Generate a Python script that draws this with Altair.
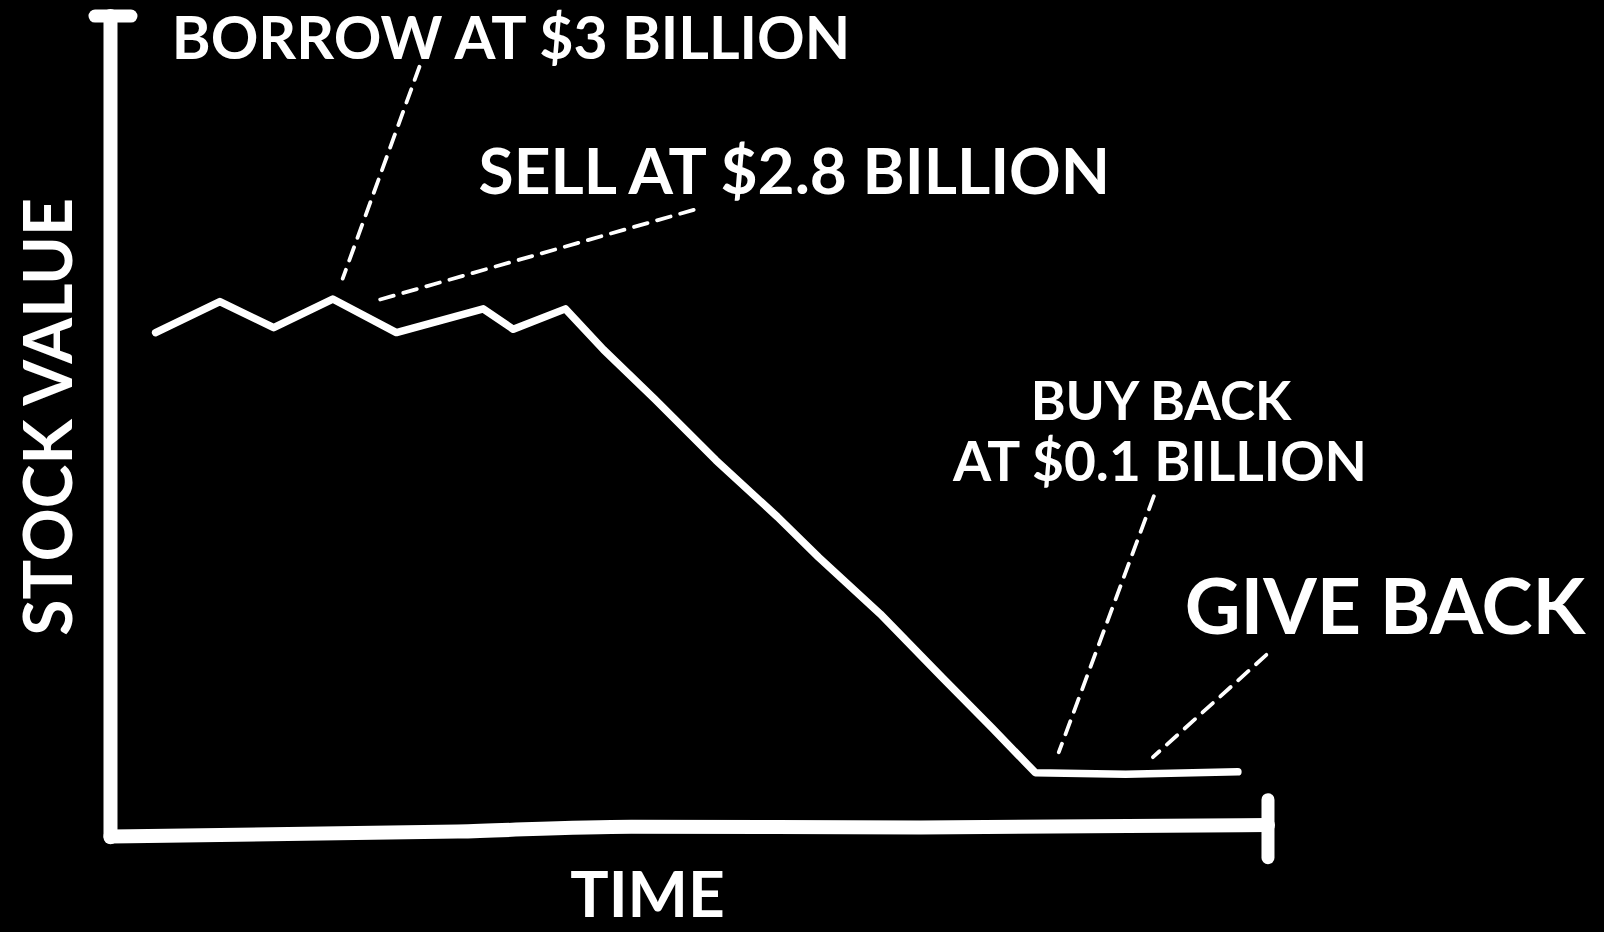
import altair as alt
import pandas as pd
import jinja2

# ---- data (time units: 0 = y axis, 100 = end of x axis; value units: 0 = x axis) ----
time = [3.9, 9.45, 14.1, 19.2, 24.7, 32.2, 34.8, 39.3, 42.6, 47.0, 52.3, 57.6,
        61.2, 66.5, 71.8, 76.2, 79.9, 87.7, 97.4]
value = [61.3, 65.1, 61.9, 65.4, 61.3, 64.2, 61.7, 64.2, 59.2, 53.2, 45.7, 38.8,
         33.8, 26.9, 19.2, 12.9, 7.5, 7.3, 7.6]

label_text = ["BORROW AT $3 BILLION", "SELL AT $2.8 BILLION", "GIVE BACK"]
label_t = [5.3, 31.8, 92.8]
label_v = [94.74, 78.2, 24.4]
label_size = [59, 64, 77]

buy_text = ["BUY BACK", "AT $0.1 BILLION"]
buy_t = [90.76, 90.67]
buy_v = [50.6, 43.2]
buy_size = [53, 55]

leader_t = [26.69, 50.38, 90.14, 99.86]
leader_v = [93.8, 76.3, 41.3, 21.9]
leader_t2 = [20.06, 22.71, 81.93, 90.06]
leader_v2 = [67.9, 65.1, 10.0, 9.4]

xaxis_t = [0, 30, 45, 70, 100]
xaxis_v = [-0.3, 0.3, 0.9, 0.8, 1.1]

XDOM = [-9.546, 129.03]
YDOM = [-11.98, 101.96]
FONT = "Lato"

xs = alt.Scale(domain=XDOM, nice=False, zero=False)
ys = alt.Scale(domain=YDOM, nice=False, zero=False)

line_df = pd.DataFrame({"t": time, "v": value})
lab_df = pd.DataFrame({"t": label_t, "v": label_v, "txt": label_text, "s": label_size})
buy_df = pd.DataFrame({"t": buy_t, "v": buy_v, "txt": buy_text, "s": buy_size})
lead_df = pd.DataFrame({"t": leader_t, "v": leader_v, "t2": leader_t2, "v2": leader_v2})
xax_df = pd.DataFrame({"t": xaxis_t, "v": xaxis_v})
yax_df = pd.DataFrame({"t": [0], "v": [-0.4], "v2": [100]})
ycap_df = pd.DataFrame({"t": [-1.34], "t2": [1.77], "v": [100]})
xcap_df = pd.DataFrame({"t": [100], "v": [4.2], "v2": [-2.9]})
ylab_df = pd.DataFrame({"t": [-3.36], "v": [51.0], "txt": ["STOCK VALUE"]})
xlab_df = pd.DataFrame({"t": [46.4], "v": [-10.2], "txt": ["TIME"]})

X = lambda f="t": alt.X(f"{f}:Q", scale=xs, axis=None)
Y = lambda f="v": alt.Y(f"{f}:Q", scale=ys, axis=None)

yaxis = alt.Chart(yax_df).mark_rule(color="white", strokeWidth=14, strokeCap="round").encode(
    x=X(), y=Y(), y2="v2:Q")
ycap = alt.Chart(ycap_df).mark_rule(color="white", strokeWidth=13, strokeCap="round").encode(
    x=X(), x2="t2:Q", y=Y())
xaxis = alt.Chart(xax_df).mark_line(color="white", strokeWidth=14, strokeCap="round",
                                    interpolate="monotone").encode(x=X(), y=Y())
xcap = alt.Chart(xcap_df).mark_rule(color="white", strokeWidth=13, strokeCap="round").encode(
    x=X(), y=Y(), y2="v2:Q")

stock = alt.Chart(line_df).mark_line(color="white", strokeWidth=7.5, strokeCap="round",
                                     strokeJoin="round").encode(x=X(), y=Y())

leaders = alt.Chart(lead_df).mark_rule(color="white", strokeWidth=3.8, strokeCap="round",
                                       strokeDash=[14, 10]).encode(
    x=X(), y=Y(), x2="t2:Q", y2="v2:Q")

labels = alt.Chart(lab_df).mark_text(color="white", font=FONT, fontWeight="bold",
                                     align="left", baseline="alphabetic").encode(
    x=X(), y=Y(), text="txt:N", size=alt.Size("s:Q", scale=None, legend=None))
buy = alt.Chart(buy_df).mark_text(color="white", font=FONT, fontWeight="bold",
                                  align="center", baseline="alphabetic").encode(
    x=X(), y=Y(), text="txt:N", size=alt.Size("s:Q", scale=None, legend=None))
ylab = alt.Chart(ylab_df).mark_text(color="white", font=FONT, fontWeight="bold", fontSize=66,
                                    angle=270, align="center", baseline="alphabetic").encode(
    x=X(), y=Y(), text="txt:N")
xlab = alt.Chart(xlab_df).mark_text(color="white", font=FONT, fontWeight="bold", fontSize=64,
                                    align="center", baseline="alphabetic").encode(
    x=X(), y=Y(), text="txt:N")

chart = alt.layer(yaxis, ycap, xaxis, xcap, stock, leaders, labels, buy, ylab, xlab).properties(
    width=1604, height=932, background="black", padding=0,
    autosize=alt.AutoSizeParams(type="none"),
).configure_view(stroke=None)

TEMPLATE = jinja2.Template("""<!DOCTYPE html>
<html>
<head>
<meta charset="utf-8">
<style>
html, body { margin: 0; padding: 0; background: #000; overflow: hidden; }
#{{ output_div }}.vega-embed { width: 100%; display: flex; }
</style>
<script type="text/javascript" src="{{ base_url }}/vega@{{ vega_version }}"></script>
<script type="text/javascript" src="{{ base_url }}/vega-lite@{{ vegalite_version }}"></script>
<script type="text/javascript" src="{{ base_url }}/vega-embed@{{ vegaembed_version }}"></script>
</head>
<body>
<div id="{{ output_div }}"></div>
<script>
(function(vegaEmbed) {
  var spec = {{ spec }};
  var embedOpt = {{ embed_options }};
  vegaEmbed("#{{ output_div }}", spec, embedOpt).catch(function(e) {
    document.body.innerHTML = '<pre style="color:red">' + e.message + '</pre>';
  });
})(vegaEmbed);
</script>
</body>
</html>""")

chart.save("out.html", embed_options={"renderer": "svg", "actions": False}, template=TEMPLATE)
